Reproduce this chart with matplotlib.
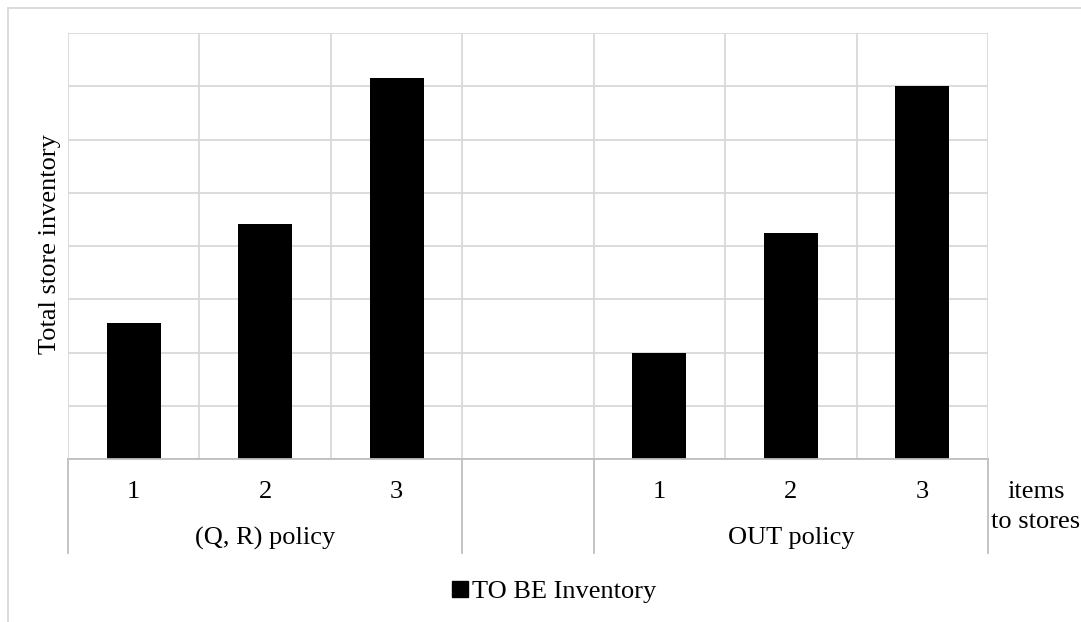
import matplotlib.pyplot as plt
from matplotlib.lines import Line2D
import matplotlib.transforms as mtransforms

plt.rcParams['font.family'] = ['Liberation Serif', 'DejaVu Serif']

# data
policies = ['(Q, R) policy', 'OUT policy']
stores = ['1', '2', '3']
qr_inventory = [2.55, 4.42, 7.15]
out_inventory = [1.99, 4.24, 7.0]
series_name = 'TO BE Inventory'

GRID = '#d9d9d9'
AXIS = '#bfbfbf'
FS = 19

fig = plt.figure(figsize=(10.81, 6.22), dpi=100)
W, H = 1081, 622
ax = fig.add_axes([68 / W, 1 - 459 / H, (988 - 68) / W, (459 - 33) / H])

# positions: group 1 at 0..2, gap at 3, group 2 at 4..6
xs_qr = [0, 1, 2]
xs_out = [4, 5, 6]
ax.bar(xs_qr, qr_inventory, width=0.41, color='black', zorder=3)
ax.bar(xs_out, out_inventory, width=0.41, color='black', zorder=3)

ax.set_xlim(-0.5, 6.5)
ax.set_ylim(0, 8)
ax.set_yticks(range(0, 9))
ax.set_xticks([x - 0.5 for x in range(8)])
ax.grid(True, color=GRID, linewidth=1.3, zorder=0)
ax.tick_params(length=0, labelbottom=False, labelleft=False)
for side in ['top', 'right', 'left']:
    ax.spines[side].set_visible(False)
ax.spines['bottom'].set_color(AXIS)
ax.spines['bottom'].set_linewidth(1.3)
ax.spines['bottom'].set_zorder(4)

# multi-level category axis
trans = mtransforms.blended_transform_factory(ax.transData, ax.transAxes)
sub_y = (459 - 492) / (459 - 33)
grp_y = (459 - 538) / (459 - 33)
bot_y = (459 - 553) / (459 - 33)
for xs in (xs_qr, xs_out):
    for x, lab in zip(xs, stores):
        ax.text(x, sub_y, lab, transform=trans, ha='center', va='center', fontsize=FS)
for xs, lab in zip((xs_qr, xs_out), policies):
    ax.text(sum(xs) / 3, grp_y, lab, transform=trans, ha='center', va='center', fontsize=FS)
for x in [-0.5, 2.5, 3.5, 6.5]:
    ax.plot([x, x], [0, bot_y], transform=trans, color=AXIS, linewidth=1.3, clip_on=False)

fig.text(1036 / W, 1 - 507 / H, 'items\nto stores', ha='center', va='center',
         fontsize=FS, linespacing=1.45)
fig.text(50 / W, 1 - 244 / H, 'Total store inventory', rotation=90,
         ha='center', va='center', fontsize=FS)

handle = Line2D([], [], marker='s', color='black', linestyle='none', markersize=11)
fig.legend([handle], [series_name], loc='center', bbox_to_anchor=(553 / W, 1 - 591 / H),
           frameon=False, fontsize=FS, handletextpad=0.05, handlelength=0.8)

# outer chart border
fig.add_artist(Line2D([8 / W, 8 / W], [0, 1 - 8 / H], color=GRID, linewidth=1.3))
fig.add_artist(Line2D([8 / W, 1], [1 - 8 / H, 1 - 8 / H], color=GRID, linewidth=1.3))

fig.savefig('out.png', dpi=100)
